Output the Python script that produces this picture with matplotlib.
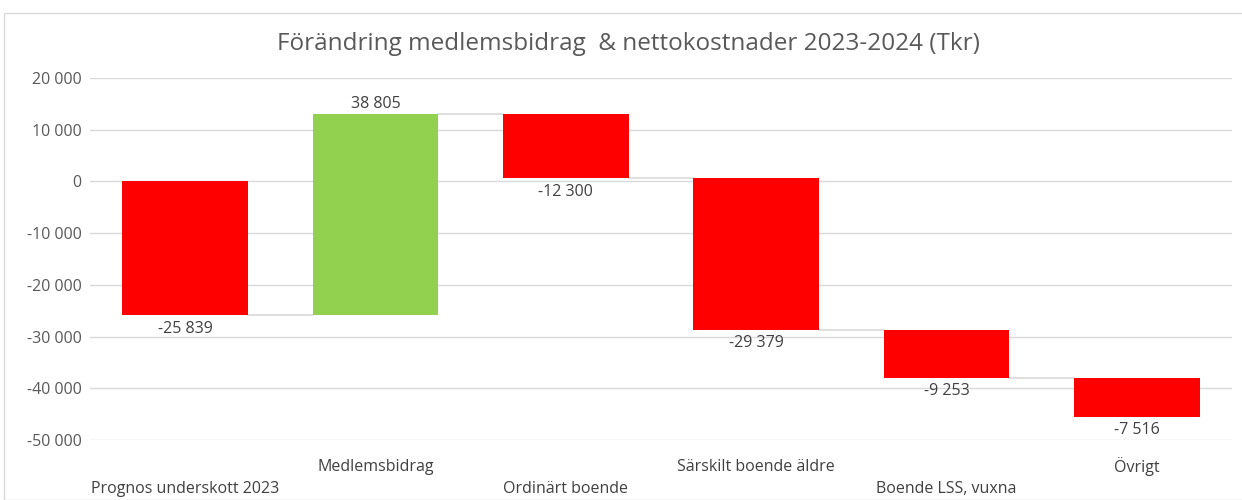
import matplotlib
matplotlib.use("Agg")
import matplotlib.pyplot as plt
from matplotlib.patches import Rectangle
import numpy as np

categories = ["Prognos underskott 2023", "Medlemsbidrag", "Ordinärt boende",
              "Särskilt boende äldre", "Boende LSS, vuxna", "Övrigt"]
changes = [-25839, 38805, -12300, -29379, -9253, -7516]
y_ticks = [-50000, -40000, -30000, -20000, -10000, 0, 10000, 20000]

plt.rcParams['font.family'] = ['Open Sans', 'DejaVu Sans']

def fmt(v):
    s = f"{abs(v):,}".replace(",", " ")
    return ("-" if v < 0 else "") + s

fig = plt.figure(figsize=(12.42, 5.0), dpi=100)
fig.patches.append(Rectangle((4/1242, 0), 1.2, (500-13)/500, transform=fig.transFigure,
                             fill=False, edgecolor="#d9d9d9", linewidth=1.0))
ax = fig.add_axes([90/1242, 60/500, (1232-90)/1242, (440-78)/500])

x = np.arange(len(changes))
ends = np.cumsum(changes)
starts = ends - np.array(changes)
bottoms = np.minimum(starts, ends)
heights = np.abs(changes)
colors = ["#92d050" if v > 0 else "#ff0000" for v in changes]
w = 0.66
ax.bar(x, heights, bottom=bottoms, width=w, color=colors, zorder=3)

for i in range(len(changes) - 1):
    ax.plot([x[i] + w/2, x[i+1] - w/2], [ends[i], ends[i]], color="#d9d9d9", lw=1.2, zorder=2)

for i, v in enumerate(changes):
    if v < 0:
        ax.annotate(fmt(v), (x[i], ends[i]), xytext=(0, -4), textcoords="offset points",
                    ha="center", va="top", fontsize=11.5, color="#404040")
    else:
        ax.annotate(fmt(v), (x[i], ends[i]), xytext=(0, 2), textcoords="offset points",
                    ha="center", va="bottom", fontsize=11.5, color="#404040")

ax.set_xlim(-0.5, len(changes) - 0.5)
ax.set_ylim(-50000, 20000)
ax.set_yticks(y_ticks)
ax.set_yticklabels([fmt(t) for t in y_ticks], fontsize=11.5, color="#595959")
ax.yaxis.grid(True, color="#d9d9d9", lw=1.0, zorder=0)
ax.tick_params(axis="y", length=0, pad=6)
ax.set_xticks([])
for s in ax.spines.values():
    s.set_visible(False)

trans = ax.get_xaxis_transform()
for i, c in enumerate(categories):
    ypix = 489 if i % 2 == 0 else 467
    yax = (440 - ypix) / (440 - 78)
    ax.text(x[i], yax, c, transform=trans, ha="center", va="center",
            fontsize=11.5, color="#404040", clip_on=False)

fig.text(628/1242, 1 - 44/500, "Förändring medlemsbidrag  & nettokostnader 2023-2024 (Tkr)",
         ha="center", va="center", fontsize=17.5, color="#595959")

fig.savefig("out.png", dpi=100, facecolor="white")
